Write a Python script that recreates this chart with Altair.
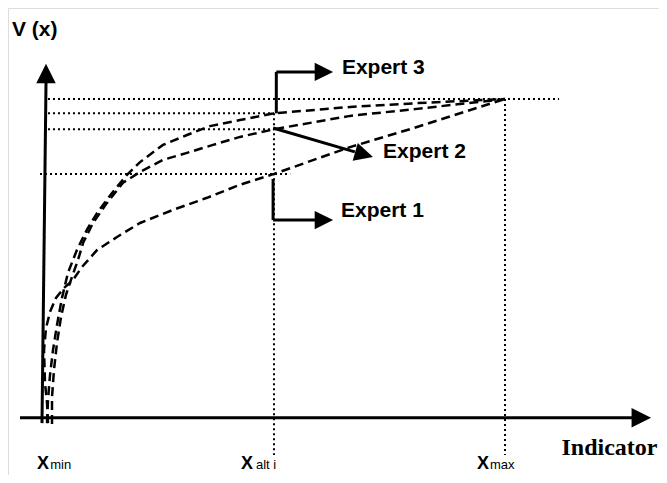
import altair as alt
import pandas as pd

# Conceptual coordinates: Indicator from X_min = 0 to X_max = 100, V(x) from 0 to 1
X_MIN, X_ALT, X_MAX = 0, 50, 100
experts = ["Expert 1", "Expert 2", "Expert 3"]
v_at_alt = [0.765, 0.905, 0.955]

e1_x = [1.08, 0.87, 0.43, 0.22, 0.65, 1.52, 2.81, 4.55, 6.49, 8.44, 11.69, 16.02, 21.0, 28.14, 35.5, 42.64, 50.0, 66.45, 80.95, 100.0]
e1_v = [-0.017, 0.046, 0.109, 0.212, 0.281, 0.332, 0.376, 0.407, 0.432, 0.473, 0.526, 0.567, 0.611, 0.652, 0.690, 0.731, 0.765, 0.849, 0.912, 1.0]

e2_x = [1.95, 1.95, 2.38, 3.03, 3.90, 4.98, 6.28, 7.58, 8.66, 10.82, 13.85, 17.32, 21.0, 25.97, 31.17, 36.8, 42.64, 50.0, 66.45, 80.95, 100.0]
e2_v = [-0.02, 0.065, 0.150, 0.235, 0.316, 0.386, 0.442, 0.495, 0.548, 0.611, 0.674, 0.737, 0.771, 0.809, 0.831, 0.856, 0.881, 0.905, 0.947, 0.969, 1.0]

e3_x = [0.87, 1.08, 1.52, 2.16, 3.03, 4.11, 5.41, 7.36, 9.52, 11.69, 14.94, 18.18, 21.0, 25.97, 31.17, 36.15, 42.64, 50.0, 66.45, 80.95, 100.0]
e3_v = [-0.017, 0.055, 0.134, 0.212, 0.291, 0.376, 0.455, 0.527, 0.590, 0.642, 0.705, 0.762, 0.802, 0.856, 0.887, 0.915, 0.934, 0.955, 0.975, 0.987, 1.0]

W, H = 651, 467
XD = [-7.576, 133.33]
YD = [-0.1798, 1.2855]
xs = alt.Scale(domain=XD, nice=False, zero=False)
ys = alt.Scale(domain=YD, nice=False, zero=False)

rows = []
for name, xl, vl in [("Expert 1", e1_x, e1_v), ("Expert 2", e2_x, e2_v), ("Expert 3", e3_x, e3_v)]:
    for i, (a, b) in enumerate(zip(xl, vl)):
        rows.append({"expert": name, "i": i, "x": a, "v": b})
curves_df = pd.DataFrame(rows)

curves = alt.Chart(curves_df).mark_line(
    color="black", strokeWidth=2.5, strokeDash=[9, 5]
).encode(
    x=alt.X("x:Q", scale=xs, axis=None),
    y=alt.Y("v:Q", scale=ys, axis=None),
    detail="expert:N",
    order="i:Q",
)

# dotted guide lines
dot_df = pd.DataFrame({
    "x": [1.08, 1.08, 1.08, -0.65, X_ALT, X_MAX],
    "x2": [111.7, X_ALT, X_ALT, 53.5, X_ALT, X_MAX],
    "v": [1.0, v_at_alt[2], v_at_alt[1], v_at_alt[0], v_at_alt[2], 1.0],
    "v2": [1.0, v_at_alt[2], v_at_alt[1], v_at_alt[0], -0.117, -0.117],
})
dots = alt.Chart(dot_df).mark_rule(color="black", strokeWidth=2, strokeDash=[2, 3]).encode(
    x=alt.X("x:Q", scale=xs, axis=None), x2="x2:Q",
    y=alt.Y("v:Q", scale=ys, axis=None), y2="v2:Q",
)

# solid lines: axes and annotation arrows
solid_df = pd.DataFrame({
    "x": [0.65, -4.98, 50.5, 50.5, 49.8, 49.8, 49.8],
    "x2": [-0.22, 128.5, 50.5, 59.2, 49.8, 59.2, 67.5],
    "v": [1.05, 0.0, 0.955, 1.085, 0.749, 0.62, 0.909],
    "v2": [-0.017, 0.0, 1.085, 1.085, 0.62, 0.62, 0.834],
})
solid = alt.Chart(solid_df).mark_rule(color="black", strokeWidth=3).encode(
    x=alt.X("x:Q", scale=xs, axis=None), x2="x2:Q",
    y=alt.Y("v:Q", scale=ys, axis=None), y2="v2:Q",
)

right_tri = "M1,0L-1,-1L-1,1Z"
up_tri = "M0,-1L1,1L-1,1Z"
heads_df = pd.DataFrame({
    "x": [0.65, 129.5, 60.8, 60.8, 69.5],
    "v": [1.08, 0.0, 1.085, 0.62, 0.826],
    "ang": [0, 0, 0, 0, 16],
    "kind": ["up", "right", "right", "right", "right"],
})
head_up = alt.Chart(heads_df[heads_df.kind == "up"]).mark_point(
    shape=up_tri, filled=True, color="black", opacity=1, size=380
).encode(x=alt.X("x:Q", scale=xs, axis=None), y=alt.Y("v:Q", scale=ys, axis=None))
head_big = alt.Chart(heads_df.iloc[[1]]).mark_point(
    shape=right_tri, filled=True, color="black", opacity=1, size=380
).encode(x=alt.X("x:Q", scale=xs, axis=None), y=alt.Y("v:Q", scale=ys, axis=None))
head_exp = alt.Chart(heads_df.iloc[2:]).mark_point(
    shape=right_tri, filled=True, color="black", opacity=1, size=340
).encode(x=alt.X("x:Q", scale=xs, axis=None), y=alt.Y("v:Q", scale=ys, axis=None),
         angle=alt.Angle("ang:Q", scale=None))

sans = "Liberation Sans"
labels_df = pd.DataFrame({
    "x": [64.7, 73.6, 64.5, -6.71],
    "v": [1.078, 0.815, 0.63, 1.198],
    "t": ["Expert 3", "Expert 2", "Expert 1", "V (x)"],
})
labels = alt.Chart(labels_df).mark_text(
    align="left", baseline="alphabetic", font=sans, fontSize=21, fontWeight="bold", color="black"
).encode(x=alt.X("x:Q", scale=xs, axis=None), y=alt.Y("v:Q", scale=ys, axis=None), text="t:N")

ind = alt.Chart(pd.DataFrame({"x": [133.0], "v": [-0.117], "t": ["Indicator"]})).mark_text(
    align="right", baseline="alphabetic", font="Liberation Serif", fontSize=24, fontWeight="bold", color="black"
).encode(x=alt.X("x:Q", scale=xs, axis=None), y=alt.Y("v:Q", scale=ys, axis=None), text="t:N")

xlab_df = pd.DataFrame({"x": [-1.3, 42.86, 93.94], "v": [-0.162] * 3, "t": ["X", "X", "X"]})
sub_df = pd.DataFrame({"x": [1.55, 46.1, 96.75], "v": [-0.162] * 3, "t": ["min", "alt i", "max"]})
xlab = alt.Chart(xlab_df).mark_text(
    align="left", baseline="alphabetic", font=sans, fontSize=18, fontWeight="bold", color="black"
).encode(x=alt.X("x:Q", scale=xs, axis=None), y=alt.Y("v:Q", scale=ys, axis=None), text="t:N")
sub = alt.Chart(sub_df).mark_text(
    align="left", baseline="alphabetic", font=sans, fontSize=13, color="black"
).encode(x=alt.X("x:Q", scale=xs, axis=None), y=alt.Y("v:Q", scale=ys, axis=None), text="t:N")

chart = alt.layer(dots, curves, solid, head_up, head_big, head_exp, labels, ind, xlab, sub).properties(
    width=W, height=H, autosize=alt.AutoSizeParams(type="none"), padding=0
).configure_view(stroke=None).configure(background="white")

chart.save("out.html", embed_options={"renderer": "svg", "actions": False})
